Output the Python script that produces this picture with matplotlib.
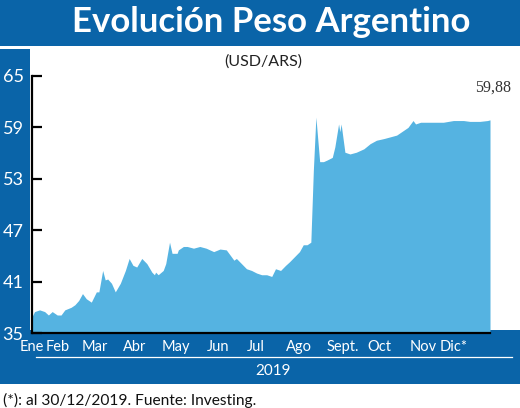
import matplotlib
matplotlib.use("Agg")
import matplotlib.pyplot as plt
from matplotlib.patches import Rectangle
from matplotlib.lines import Line2D

# ---- data (day of year 2019 -> USD/ARS) ----
days = [0, 2, 6, 10, 13, 16, 20, 23, 26, 31, 34, 37, 40, 43, 47, 51, 53, 56, 58, 60,
        63, 66, 70, 74, 77, 80, 83, 87, 91, 95, 97, 98, 100, 104, 106, 109, 111, 115, 116, 120,
        123, 128, 133, 138, 144, 149, 154, 157, 160, 162, 166, 170, 174, 178, 182, 186, 190, 193, 197, 201,
        204, 208, 212, 215, 218, 220, 221, 223, 225, 228, 231, 234, 238, 240, 243, 244, 245, 248, 252, 257,
        263, 268, 273, 279, 284, 289, 293, 298, 302, 304, 308, 313, 318, 326, 334, 342, 347, 355, 361, 363]
values = [36.9, 37.5, 37.7, 37.5, 37.1, 37.5, 37.1, 37.1, 37.7, 38.0, 38.3, 38.8, 39.6, 39.0, 38.6, 39.8, 39.8, 42.3, 41.2, 41.3,
          40.8, 39.8, 40.8, 42.3, 43.7, 42.9, 42.7, 43.7, 43.1, 42.1, 41.8, 42.1, 41.8, 42.3, 43.1, 45.6, 44.3, 44.3, 44.7, 45.1,
          45.1, 44.9, 45.1, 44.9, 44.5, 44.8, 44.7, 44.1, 43.5, 43.7, 43.1, 42.5, 42.3, 42.0, 41.8, 41.8, 41.6, 42.5, 42.3, 42.9,
          43.3, 43.9, 44.5, 45.3, 45.3, 45.5, 45.6, 54.0, 60.2, 55.0, 55.0, 55.2, 55.5, 56.7, 59.4, 58.5, 59.4, 56.1, 55.9, 56.1,
          56.5, 57.1, 57.5, 57.7, 57.9, 58.1, 58.5, 59.0, 59.8, 59.4, 59.6, 59.6, 59.6, 59.6, 59.8, 59.8, 59.7, 59.7, 59.8, 59.88]

month_labels = ["Ene", "Feb", "Mar", "Abr", "May", "Jun", "Jul", "Ago", "Sept.", "Oct", "Nov", "Dic*"]
month_pos = [0, 20.6, 49.9, 81.6, 114.1, 147.4, 177.5, 211.6, 246.5, 275, 309.9, 334.5]
y_ticks = [35, 41, 47, 53, 59, 65]
last_label = "59,88"

title = "Evolución Peso Argentino"
subtitle = "(USD/ARS)"
year_label = "2019"
footnote = "(*): al 30/12/2019. Fuente: Investing."

BLUE = "#0a64a8"
FILL = "#55b3e1"

plt.rcParams['font.family'] = ['Lato', 'DejaVu Sans']

W, H = 520, 408
fig = plt.figure(figsize=(W / 100, H / 100), dpi=100)
fig.patch.set_facecolor("white")

def px_rect(x0, y0, x1, y1, **kw):
    # pixel coords from top-left
    r = Rectangle((x0 / W, 1 - y1 / H), (x1 - x0) / W, (y1 - y0) / H,
                  transform=fig.transFigure, zorder=0, **kw)
    fig.add_artist(r)

px_rect(0, 0, W, 46, color=BLUE, lw=0)      # title banner
px_rect(0, 49, 30, 331, color=BLUE, lw=0)   # left strip
px_rect(0, 330, W, 384, color=BLUE, lw=0)   # bottom band

ax = fig.add_axes([32 / W, 1 - 333 / H, 458 / W, 257 / H])
ax.set_zorder(2)
ax.set_facecolor("white")
ax.fill_between(days, values, 35, color=FILL, lw=0)
ax.set_xlim(0, 363)
ax.set_ylim(35, 65)

for s in ["top", "right"]:
    ax.spines[s].set_visible(False)
ax.spines["left"].set_linewidth(1.6)
ax.spines["bottom"].set_linewidth(1.6)
ax.spines["left"].set_color("black")
ax.spines["bottom"].set_color("black")

ax.set_yticks(y_ticks)
ax.set_yticklabels([str(v) for v in y_ticks])
ax.tick_params(axis="y", direction="in", length=7.5, width=1.6, color="black",
               labelcolor="white", labelsize=13, pad=6)
ax.set_xticks(month_pos)
ax.set_xticklabels(month_labels)
ax.tick_params(axis="x", length=0, labelcolor="white", labelsize=10.5, pad=5)
for lab in ax.get_yticklabels() + ax.get_xticklabels():
    lab.set_clip_on(False)

ax.annotate(last_label, xy=(days[-1], values[-1]), xytext=(2, 23),
            textcoords="offset points", ha="center", va="center",
            fontsize=11.5, color="#333333", family="Liberation Serif",
            annotation_clip=False)

def px_text(x, y, s, **kw):
    fig.text(x / W, 1 - y / H, s, zorder=5, **kw)

px_text(271, 22, title, ha="center", va="center", color="white",
        fontsize=25, fontweight="bold")
px_text(263, 62, subtitle, ha="center", va="center", color="#222222", fontsize=11.5)
px_text(273, 371, year_label, ha="center", va="center", color="white", fontsize=11)
px_text(3, 400, footnote, ha="left", va="center", color="#111111", fontsize=11.2)

fig.add_artist(Line2D([36 / W, 512 / W], [1 - 357 / H, 1 - 357 / H],
                      transform=fig.transFigure, color="white", lw=0.9, zorder=5))

fig.savefig("out.png", dpi=100)
